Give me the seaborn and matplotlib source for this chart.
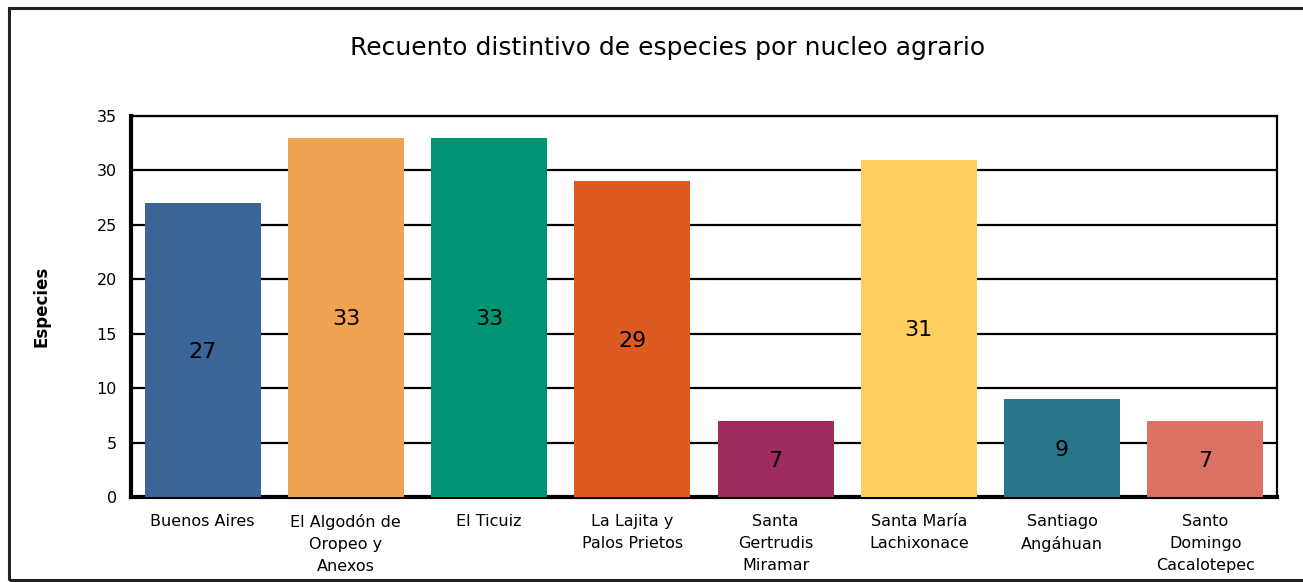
import matplotlib
matplotlib.use("Agg")
import matplotlib.pyplot as plt
import seaborn as sns
import pandas as pd
from matplotlib.patches import Rectangle

categories = ["Buenos Aires", "El Algodón de\nOropeo y\nAnexos", "El Ticuiz",
              "La Lajita y\nPalos Prietos", "Santa\nGertrudis\nMiramar",
              "Santa María\nLachixonace", "Santiago\nAngáhuan",
              "Santo\nDomingo\nCacalotepec"]
values = [27, 33, 33, 29, 7, 31, 9, 7]
colors = ["#3A6596", "#EFA352", "#009572", "#DD5A20", "#A02B5F",
          "#FECD5F", "#28748A", "#DB7063"]
yticks = [0, 5, 10, 15, 20, 25, 30, 35]

sns.set_theme(style="white")
plt.rcParams['font.family'] = ['DejaVu Sans']

df = pd.DataFrame({"cat": categories, "val": values})

fig = plt.figure(figsize=(13.03, 5.82), dpi=100)
ax = fig.add_axes([131/1303, 1-497/582, (1277-131)/1303, (497-116)/582])

sns.barplot(data=df, x="cat", y="val", hue="cat", palette=colors,
            legend=False, ax=ax, width=0.81, saturation=1, zorder=3,
            linewidth=0, edgecolor="none")

ax.set_ylim(0, 35)
ax.set_xlim(-0.5, len(categories)-0.5)
ax.set_yticks(yticks)
ax.set_yticklabels([str(t) for t in yticks], fontsize=11.5, color="black")
ax.tick_params(axis='x', labelsize=11.5, length=0, pad=12, labelcolor="black")
ax.tick_params(axis='y', length=0, pad=10, labelcolor="black")
for t in ax.get_xticklabels():
    t.set_linespacing(1.6)
ax.yaxis.grid(True, color="black", linewidth=1.6, zorder=0)
ax.set_axisbelow(True)
ax.set_xlabel("")
ax.set_ylabel("Especies", fontsize=12, fontweight="bold", color="black")
ax.yaxis.set_label_coords(-0.07, 0.5)

for side in ["left", "bottom"]:
    ax.spines[side].set_linewidth(3)
    ax.spines[side].set_color("black")
for side in ["top", "right"]:
    ax.spines[side].set_linewidth(1.6)
    ax.spines[side].set_color("black")
    ax.spines[side].set_visible(True)

for i, v in enumerate(values):
    ax.text(i, v/2, str(v), ha="center", va="center_baseline", fontsize=16,
            color="black", zorder=5)

fig.text(0.512, 1-48/582, "Recuento distintivo de especies por nucleo agrario",
         ha="center", va="center", fontsize=18, color="black")

frame = Rectangle((9/1303, 2/582), 1.2, 1-10/582, transform=fig.transFigure,
                  fill=False, edgecolor="#222222", linewidth=2.2, clip_on=False)
fig.add_artist(frame)

fig.savefig("out.png", dpi=100)
